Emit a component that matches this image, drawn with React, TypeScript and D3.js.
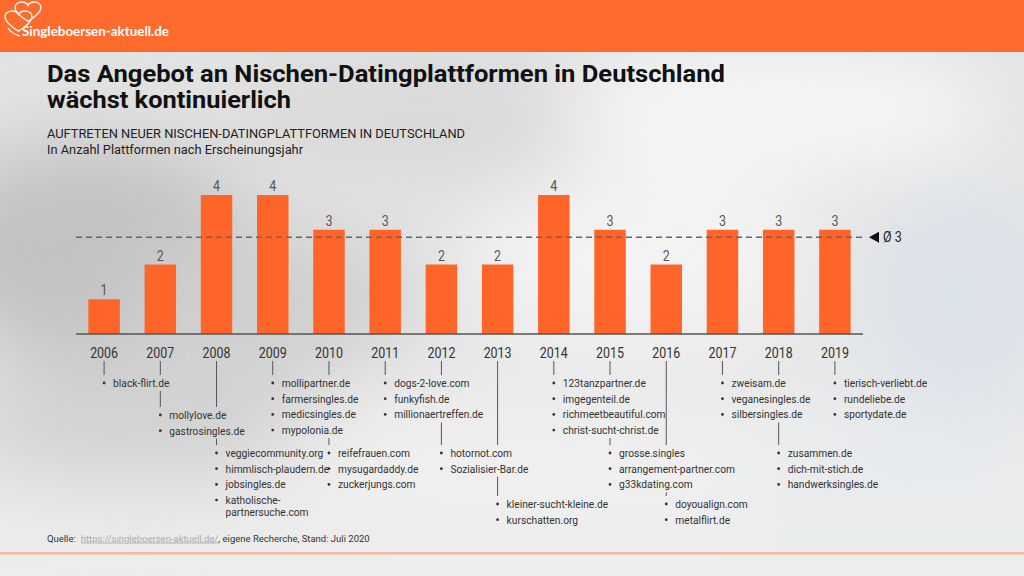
import React from "react";
import * as d3 from "d3";

// ---------- data ----------
const years = ["2006", "2007", "2008", "2009", "2010", "2011", "2012", "2013", "2014", "2015", "2016", "2017", "2018", "2019"];
const counts = [1, 2, 4, 4, 3, 3, 2, 2, 4, 3, 2, 3, 3, 3];
const platforms: string[][] = [
  ["black-flirt.de"],
  ["mollylove.de", "gastrosingles.de"],
  ["veggiecommunity.org", "himmlisch-plaudern.de", "jobsingles.de", "katholische-partnersuche.com"],
  ["mollipartner.de", "farmersingles.de", "medicsingles.de", "mypolonia.de"],
  ["reifefrauen.com", "mysugardaddy.de", "zuckerjungs.com"],
  ["dogs-2-love.com", "funkyfish.de", "millionaertreffen.de"],
  ["hotornot.com", "Sozialisier-Bar.de"],
  ["kleiner-sucht-kleine.de", "kurschatten.org"],
  ["123tanzpartner.de", "imgegenteil.de", "richmeetbeautiful.com", "christ-sucht-christ.de"],
  ["grosse.singles", "arrangement-partner.com", "g33kdating.com"],
  ["doyoualign.com", "metalflirt.de"],
  ["zweisam.de", "veganesingles.de", "silbersingles.de"],
  ["zusammen.de", "dich-mit-stich.de", "handwerksingles.de"],
  ["tierisch-verliebt.de", "rundeliebe.de", "sportydate.de"],
];
const titleLines = ["Das Angebot an Nischen-Datingplattformen in Deutschland", "wächst kontinuierlich"];
const subtitleLines = ["AUFTRETEN NEUER NISCHEN-DATINGPLATTFORMEN IN DEUTSCHLAND", "In Anzahl Plattformen nach Erscheinungsjahr"];
const sourceLabel = "Quelle:";
const sourceLink = "https://singleboersen-aktuell.de/";
const sourceRest = ", eigene Recherche, Stand: Juli 2020";
const brand = "Singleboersen-aktuell.de";

// layout: staircase tier of each year's list (layout, not data)
const labelTier = [0, 1, 2, 0, 2, 0, 2, 3, 0, 2, 3, 0, 2, 0];

const FONT = "Roboto, 'Noto Sans', sans-serif";
const BAR = "#FF6428";
const HEADER = "#FE6B2D";

let ctx: CanvasRenderingContext2D | null = null;
function measure(text: string, font: string) {
  if (!ctx) ctx = document.createElement("canvas").getContext("2d");
  if (!ctx) return text.length * 6;
  ctx.font = font;
  return ctx.measureText(text).width;
}

function wrap(p: string): string[] {
  if (p.length > 24 && p.indexOf("-") > 0) {
    const k = p.indexOf("-");
    return [p.slice(0, k + 1), p.slice(k + 1)];
  }
  return [p];
}

const T = ({ x, y, sx = 1, children, ...rest }: any) => (
  <text transform={`translate(${x},${y}) scale(${sx},1)`} {...rest}>
    {children}
  </text>
);

const heartPath =
  "M0.5,0.92 C0.12,0.62 0,0.42 0,0.26 C0,0.1 0.12,0 0.27,0 C0.38,0 0.46,0.07 0.5,0.16 C0.54,0.07 0.62,0 0.73,0 C0.88,0 1,0.1 1,0.26 C1,0.42 0.88,0.62 0.5,0.92 Z";

export default function App() {
  const x = d3.scaleBand<string>().domain(years).range([76, 863]).paddingInner(0.44).paddingOuter(0.22);
  const y = d3.scaleLinear().domain([0, 4]).range([334, 195]);
  const avg = d3.mean(counts) as number;
  const cx = (yr: string) => (x(yr) as number) + x.bandwidth() / 2;

  const LIST_FS = 11;
  const LIST_SX = 0.93;
  const LINE_H = 15.7;
  const WRAP_H = 12;
  const tierY = [383, 415, 453, 504];
  const LEADER_TOP = 361;

  const groups = years.map((yr, i) => {
    const bx = cx(yr);
    const lines: { text: string; y: number; bullet: boolean }[] = [];
    let yy = tierY[labelTier[i]];
    platforms[i].forEach((p, k) => {
      if (k > 0) yy += LINE_H;
      wrap(p).forEach((part, j) => {
        if (j > 0) yy += WRAP_H;
        lines.push({ text: part, y: yy, bullet: j === 0 });
      });
    });
    const maxW = d3.max(lines, (l) => measure(l.text, `${LIST_FS}px Roboto`) * LIST_SX) as number;
    return { bx, lines, x0: bx - 4, x1: bx + 9 + maxW, y0: lines[0].y - 8, y1: lines[lines.length - 1].y + 8 };
  });

  const leaders = groups.map((g, i) => {
    let segs: [number, number][] = [[LEADER_TOP, g.y0]];
    groups.forEach((o, j) => {
      if (j === i) return;
      if (g.bx < o.x0 || g.bx > o.x1) return;
      const next: [number, number][] = [];
      segs.forEach(([a, b]) => {
        if (o.y1 <= a || o.y0 >= b) next.push([a, b]);
        else {
          if (o.y0 > a) next.push([a, o.y0]);
          if (o.y1 < b) next.push([o.y1, b]);
        }
      });
      segs = next;
    });
    return segs.filter(([a, b]) => b - a > 1);
  });

  const avgY = y(avg);

  return (
    <svg width={1024} height={576} style={{ position: "absolute", left: 0, top: 0, display: "block" }} fontFamily={FONT}>
      <defs>
        <filter id="blur" x="-50%" y="-50%" width="200%" height="200%">
          <feGaussianBlur stdDeviation="40" />
        </filter>
        <linearGradient id="bg" x1="0" y1="0" x2="0" y2="1">
          <stop offset="0" stopColor="#e2e2e2" />
          <stop offset="0.5" stopColor="#e5e5e5" />
          <stop offset="1" stopColor="#ededed" />
        </linearGradient>
      </defs>
      {/* sky background */}
      <rect x={0} y={0} width={1024} height={576} fill="url(#bg)" />
      <g filter="url(#blur)">
        <ellipse cx={90} cy={250} rx={170} ry={110} fill="#c2c2c2" />
        <ellipse cx={270} cy={300} rx={150} ry={70} fill="#cfcfcf" />
        <ellipse cx={140} cy={420} rx={190} ry={60} fill="#d2d2d2" />
        <ellipse cx={420} cy={120} rx={200} ry={60} fill="#d9d9d9" />
        <ellipse cx={780} cy={110} rx={220} ry={70} fill="#f5f5f5" />
        <ellipse cx={640} cy={260} rx={180} ry={90} fill="#f3f3f3" />
        <ellipse cx={960} cy={300} rx={90} ry={120} fill="#dce2e9" />
        <ellipse cx={560} cy={470} rx={300} ry={60} fill="#f0f0f0" />
        <ellipse cx={900} cy={470} rx={140} ry={60} fill="#e8ebee" />
      </g>

      {/* header */}
      <rect x={0} y={0} width={1024} height={52} fill={HEADER} />
      <g fill="none" stroke="#fff" strokeWidth={1.3}>
        <path d={heartPath} transform="translate(15,2) scale(26,21)" vectorEffect="non-scaling-stroke" />
        <path d={heartPath} transform="translate(5,11) scale(27,22)" vectorEffect="non-scaling-stroke" />
        <path d="M8,28 Q12,34 20,36" />
      </g>
      <text x={22} y={35.5} fill="#fff" fontFamily="Lato, Roboto, sans-serif" fontWeight={700} fontSize={14} textLength={147} lengthAdjust="spacingAndGlyphs">
        {brand}
      </text>

      {/* titles */}
      <text x={47} y={81.5} fill="#111" fontSize={24} fontWeight={700} textLength={678} lengthAdjust="spacingAndGlyphs">
        {titleLines[0]}
      </text>
      <text x={47} y={108} fill="#111" fontSize={24} fontWeight={700} textLength={244} lengthAdjust="spacingAndGlyphs">
        {titleLines[1]}
      </text>
      <text x={47} y={137.5} fill="#222" fontSize={12.5} textLength={418} lengthAdjust="spacingAndGlyphs">
        {subtitleLines[0]}
      </text>
      <text x={47} y={153.5} fill="#222" fontSize={12.5} textLength={256} lengthAdjust="spacingAndGlyphs">
        {subtitleLines[1]}
      </text>

      {/* bars */}
      {years.map((yr, i) => (
        <rect key={yr} x={x(yr)} y={y(counts[i])} width={x.bandwidth()} height={y(0) - y(counts[i])} fill={BAR} />
      ))}
      {years.map((yr, i) => (
        <T key={"v" + yr} x={cx(yr)} y={y(counts[i]) - 4} sx={0.86} textAnchor="middle" fontSize={14.5} fill="#555">
          {counts[i]}
        </T>
      ))}

      {/* axis */}
      <line x1={76} x2={863} y1={y(0)} y2={y(0)} stroke="#555" strokeWidth={1.5} />
      {years.map((yr) => (
        <T key={"y" + yr} x={cx(yr)} y={357.5} sx={0.83} textAnchor="middle" fontSize={15} fill="#333">
          {yr}
        </T>
      ))}

      {/* average line */}
      <line x1={76} x2={866} y1={avgY} y2={avgY} stroke="#666" strokeWidth={1.5} strokeDasharray="6,4" />
      <path d={`M869,${avgY} L879,${avgY - 5.5} L879,${avgY + 5.5} Z`} fill="#111" />
      <T x={883} y={avgY + 5} sx={0.86} fontSize={14.5} fill="#222">
        {"Ø " + Math.round(avg)}
      </T>

      {/* leaders */}
      {leaders.map((segs, i) =>
        segs.map(([a, b], k) => (
          <line key={`l${i}-${k}`} x1={groups[i].bx} x2={groups[i].bx} y1={a} y2={b} stroke="#555" strokeWidth={1} />
        ))
      )}

      {/* lists */}
      {groups.map((g, i) => (
        <g key={"g" + i}>
          {g.lines.map((l, k) => (
            <g key={k}>
              {l.bullet && <circle cx={g.bx} cy={l.y} r={1.4} fill="#333" />}
              <T x={g.bx + 9} y={l.y + 4} sx={LIST_SX} fontSize={LIST_FS} fill="#333">
                {l.text}
              </T>
            </g>
          ))}
        </g>
      ))}

      {/* source */}
      <text x={47} y={541.5} fontSize={9.5} fill="#333">
        <tspan>{sourceLabel}</tspan>
        <tspan dx={5} fill="#aaa" textDecoration="underline">{sourceLink}</tspan>
        <tspan>{sourceRest}</tspan>
      </text>
      <rect x={0} y={552} width={1024} height={2.5} fill="#F1B8A2" />
    </svg>
  );
}
